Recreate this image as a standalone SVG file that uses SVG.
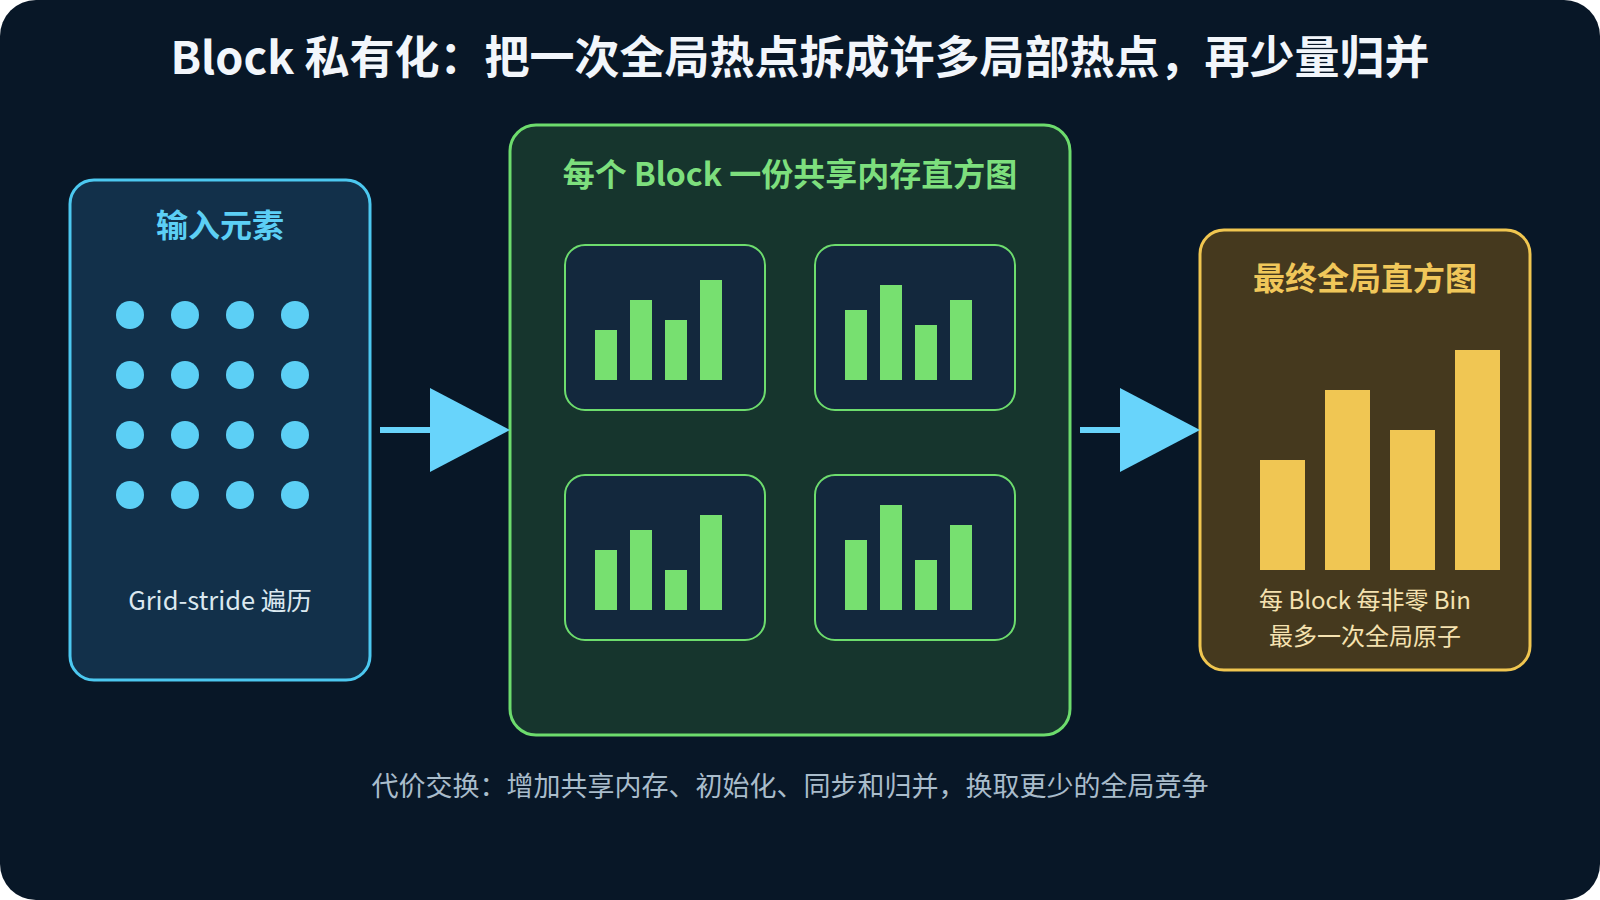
<svg xmlns="http://www.w3.org/2000/svg" width="1600" height="900" viewBox="0 0 1600 900">
<style>
.cjk{font-family:"Noto Sans CJK SC","Noto Sans",sans-serif;text-anchor:middle}
.title{font-size:45px;font-weight:700;fill:#f2f6fb}
.h{font-size:32px;font-weight:700}
.body{font-size:24px}
.dot{fill:#5ccff5}
.inner{fill:#13283d;stroke:#6ddc6d;stroke-width:2}
.gbar{fill:#77e070}
.ybar{fill:#f0c653}
.conn{stroke:#68d4fb;stroke-width:6;fill:none}
</style>
<defs>
<marker id="ah" viewBox="0 0 80 84" refX="10" refY="42" markerWidth="80" markerHeight="84" markerUnits="userSpaceOnUse" orient="auto">
<path d="M0,0 L80,42 L0,84 Z" fill="#68d4fb"/>
</marker>
</defs>
<rect x="0" y="0" width="1600" height="900" fill="#ffffff"/>
<rect x="0" y="0" width="1600" height="900" rx="36" fill="#081727"/>
<text class="cjk title" x="800" y="74">Block 私有化：把一次全局热点拆成许多局部热点，再少量归并</text>

<g id="input">
<rect x="70" y="180" width="300" height="500" rx="24" fill="#12304a" stroke="#4cc8f0" stroke-width="3"/>
<text class="cjk h" x="220" y="237" fill="#5ccff5">输入元素</text>
<circle class="dot" cx="130" cy="315" r="14"/><circle class="dot" cx="185" cy="315" r="14"/><circle class="dot" cx="240" cy="315" r="14"/><circle class="dot" cx="295" cy="315" r="14"/>
<circle class="dot" cx="130" cy="375" r="14"/><circle class="dot" cx="185" cy="375" r="14"/><circle class="dot" cx="240" cy="375" r="14"/><circle class="dot" cx="295" cy="375" r="14"/>
<circle class="dot" cx="130" cy="435" r="14"/><circle class="dot" cx="185" cy="435" r="14"/><circle class="dot" cx="240" cy="435" r="14"/><circle class="dot" cx="295" cy="435" r="14"/>
<circle class="dot" cx="130" cy="495" r="14"/><circle class="dot" cx="185" cy="495" r="14"/><circle class="dot" cx="240" cy="495" r="14"/><circle class="dot" cx="295" cy="495" r="14"/>
<text class="cjk" x="220" y="610" font-size="25.5" fill="#dbe8f0">Grid-stride 遍历</text>
</g>

<g id="blocks">
<rect x="510" y="125" width="560" height="610" rx="26" fill="#16352d" stroke="#6ddc6d" stroke-width="3"/>
<text class="cjk h" x="790" y="186" fill="#7ddf7d">每个 Block 一份共享内存直方图</text>
<g id="block1">
<rect class="inner" x="565" y="245" width="200" height="165" rx="20"/>
<rect class="gbar" x="595" y="330" width="22" height="50"/>
<rect class="gbar" x="630" y="300" width="22" height="80"/>
<rect class="gbar" x="665" y="320" width="22" height="60"/>
<rect class="gbar" x="700" y="280" width="22" height="100"/>
</g>
<g id="block2">
<rect class="inner" x="815" y="245" width="200" height="165" rx="20"/>
<rect class="gbar" x="845" y="310" width="22" height="70"/>
<rect class="gbar" x="880" y="285" width="22" height="95"/>
<rect class="gbar" x="915" y="325" width="22" height="55"/>
<rect class="gbar" x="950" y="300" width="22" height="80"/>
</g>
<g id="block3">
<rect class="inner" x="565" y="475" width="200" height="165" rx="20"/>
<rect class="gbar" x="595" y="550" width="22" height="60"/>
<rect class="gbar" x="630" y="530" width="22" height="80"/>
<rect class="gbar" x="665" y="570" width="22" height="40"/>
<rect class="gbar" x="700" y="515" width="22" height="95"/>
</g>
<g id="block4">
<rect class="inner" x="815" y="475" width="200" height="165" rx="20"/>
<rect class="gbar" x="845" y="540" width="22" height="70"/>
<rect class="gbar" x="880" y="505" width="22" height="105"/>
<rect class="gbar" x="915" y="560" width="22" height="50"/>
<rect class="gbar" x="950" y="525" width="22" height="85"/>
</g>
</g>

<g id="final">
<rect x="1200" y="230" width="330" height="440" rx="24" fill="#45391e" stroke="#f0c650" stroke-width="3"/>
<text class="cjk h" x="1365" y="290" fill="#f0c75a">最终全局直方图</text>
<rect class="ybar" x="1260" y="460" width="45" height="110"/>
<rect class="ybar" x="1325" y="390" width="45" height="180"/>
<rect class="ybar" x="1390" y="430" width="45" height="140"/>
<rect class="ybar" x="1455" y="350" width="45" height="220"/>
<text class="cjk body" x="1365" y="609" fill="#f5e2b0">每 Block 每非零 Bin</text>
<text class="cjk body" x="1365" y="645" fill="#f5e2b0">最多一次全局原子</text>
</g>

<g id="connectors">
<line class="conn" x1="380" y1="430" x2="440" y2="430" marker-end="url(#ah)"/>
<line class="conn" x1="1080" y1="430" x2="1130" y2="430" marker-end="url(#ah)"/>
</g>

<text class="cjk" x="790" y="796" font-size="27" fill="#a9bccb">代价交换：增加共享内存、初始化、同步和归并，换取更少的全局竞争</text>
</svg>
